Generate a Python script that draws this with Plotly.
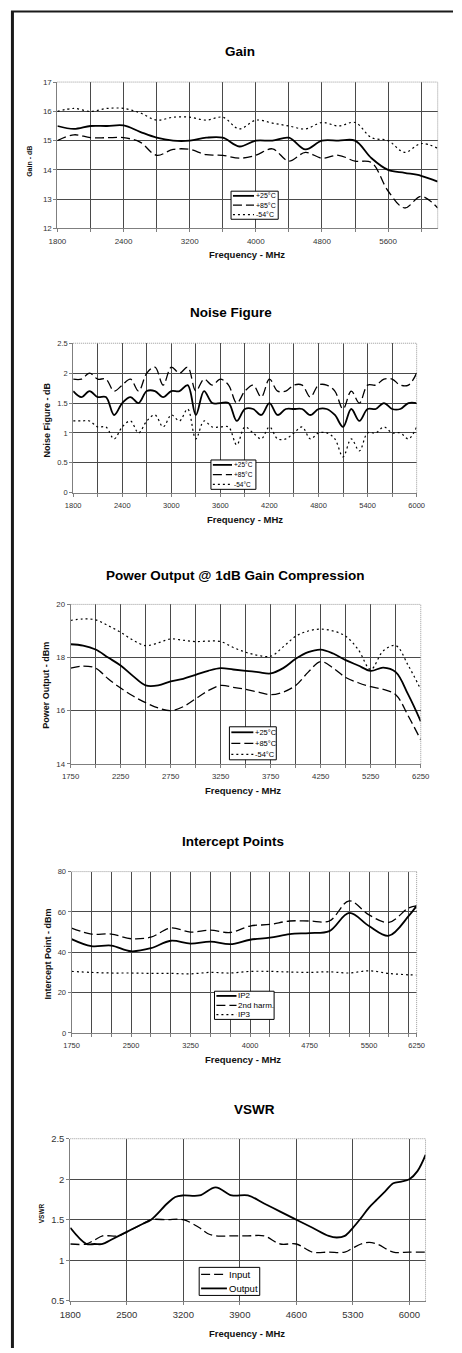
import plotly.graph_objects as go

W, H = 462, 1353
FONT = "Liberation Sans, Arial, sans-serif"

# ---------------- data ----------------
# Gain (x positions on the chart's frequency scale)
gain_freq = [1600, 1800, 2000, 2200, 2400, 2600, 2800, 3000, 3200, 3400, 3600, 3800,
             4000, 4200, 4400, 4600, 4800, 5000, 5200, 5400, 5600, 5800, 6000, 6200]
gain_p25 = [15.5, 15.4, 15.5, 15.5, 15.52, 15.3, 15.1, 15.0, 15.0, 15.1, 15.1, 14.8,
            15.0, 15.0, 15.1, 14.7, 15.0, 15.0, 15.0, 14.4, 14.0, 13.9, 13.8, 13.6]
gain_p85 = [15.0, 15.2, 15.1, 15.1, 15.1, 14.95, 14.5, 14.7, 14.7, 14.52, 14.5, 14.4,
            14.5, 14.72, 14.3, 14.6, 14.4, 14.5, 14.3, 14.25, 13.28, 12.7, 13.1, 12.7]
gain_m54 = [16.0, 16.1, 16.0, 16.1, 16.1, 15.95, 15.7, 15.8, 15.8, 15.7, 15.8, 15.4,
            15.7, 15.6, 15.5, 15.4, 15.62, 15.5, 15.62, 15.1, 15.0, 14.6, 14.9, 14.74]
gain_tickvals = [1600, 2000, 2400, 2800, 3200, 3600, 4000, 4400, 4800, 5200, 5600, 6000]
gain_ticktext = ["1800", "", "2400", "", "3200", "", "4000", "", "4800", "", "5600", ""]

# Noise figure
nf_freq = [1800, 1900, 2000, 2100, 2200, 2300, 2400, 2500, 2600, 2700, 2800, 2900,
           3000, 3100, 3200, 3300, 3400, 3500, 3600, 3700, 3800, 3900, 4000, 4100,
           4200, 4300, 4400, 4500, 4600, 4700, 4800, 4900, 5000, 5100, 5200, 5300,
           5400, 5500, 5600, 5700, 5800, 5900, 6000]
nf_p25 = [1.7, 1.6, 1.7, 1.6, 1.6, 1.3, 1.5, 1.6, 1.5, 1.7, 1.7, 1.6,
          1.7, 1.7, 1.8, 1.3, 1.7, 1.5, 1.5, 1.5, 1.2, 1.4, 1.4, 1.3,
          1.5, 1.3, 1.4, 1.4, 1.4, 1.3, 1.4, 1.4, 1.3, 1.1, 1.4, 1.2,
          1.4, 1.4, 1.5, 1.4, 1.4, 1.5, 1.5]
nf_p85 = [1.9, 1.9, 2.0, 1.9, 1.9, 1.7, 1.8, 1.9, 1.7, 2.0, 2.1, 1.8,
          2.1, 2.0, 2.1, 1.7, 1.9, 1.8, 1.9, 1.8, 1.5, 1.7, 1.8, 1.6,
          1.9, 1.7, 1.7, 1.8, 1.8, 1.6, 1.8, 1.8, 1.7, 1.4, 1.7, 1.5,
          1.8, 1.8, 1.9, 1.9, 1.8, 1.8, 2.0]
nf_m54 = [1.2, 1.2, 1.2, 1.1, 1.1, 0.9, 1.1, 1.2, 1.0, 1.2, 1.3, 1.1,
          1.3, 1.2, 1.4, 0.9, 1.2, 1.1, 1.1, 1.1, 0.8, 1.1, 1.0, 0.9,
          1.1, 0.9, 0.9, 1.0, 1.1, 0.9, 1.0, 1.0, 0.9, 0.6, 0.9, 0.7,
          1.0, 1.0, 1.1, 1.0, 1.0, 0.9, 1.1]
nf_tickvals = [1800, 2100, 2400, 2700, 3000, 3300, 3600, 3900, 4200, 4500, 4800,
               5100, 5400, 5700, 6000]
nf_ticktext = ["1800", "", "2400", "", "3000", "", "3600", "", "4200", "", "4800",
               "", "5400", "", "6000"]

# Power output @ 1 dB compression (x positions on the chart's category scale)
po_freq = [1750, 1875, 2000, 2125, 2250, 2375, 2500, 2625, 2750, 2875, 3000, 3125,
           3250, 3375, 3500, 3625, 3750, 3875, 4000, 4125, 4250, 4375, 4500, 4625,
           4750, 4875, 5000, 5125, 5250]
po_p25 = [18.5, 18.45, 18.3, 18.0, 17.7, 17.3, 16.95, 16.95, 17.1, 17.2, 17.35, 17.5,
          17.6, 17.55, 17.5, 17.45, 17.4, 17.6, 17.95, 18.2, 18.3, 18.15, 17.9, 17.7,
          17.5, 17.62, 17.45, 16.6, 15.6]
po_p85 = [17.6, 17.68, 17.6, 17.2, 16.85, 16.55, 16.3, 16.1, 16.0, 16.15, 16.45, 16.75,
          16.95, 16.88, 16.8, 16.7, 16.6, 16.7, 16.95, 17.45, 17.85, 17.6, 17.25, 17.05,
          16.9, 16.8, 16.6, 15.8, 14.9]
po_m54 = [19.4, 19.45, 19.42, 19.2, 18.95, 18.65, 18.45, 18.55, 18.7, 18.65, 18.6, 18.62,
          18.6, 18.38, 18.2, 18.08, 18.05, 18.4, 18.8, 19.0, 19.07, 19.0, 18.8, 18.3,
          17.55, 18.25, 18.45, 17.7, 16.8]
po_tickvals = [1750, 2000, 2250, 2500, 2750, 3000, 3250, 3500, 3750, 4000, 4250,
               4500, 4750, 5000, 5250]
po_ticktext = ["1750", "", "2250", "", "2750", "", "3250", "", "3750", "", "4250",
               "", "5250", "", "6250"]

# Intercept points
ip_freq = [1750, 2000, 2250, 2500, 2750, 3000, 3250, 3500, 3750, 4000, 4250, 4500,
           4750, 5000, 5250, 5500, 5750, 6000, 6100]
ip_ip2 = [46.5, 43.0, 43.3, 40.5, 42.0, 45.7, 44.3, 45.3, 44.0, 46.2, 47.2, 49.0,
          49.5, 50.5, 59.5, 53.0, 48.2, 58.0, 63.0]
ip_h2 = [52.0, 49.0, 49.0, 46.7, 47.5, 52.0, 50.0, 51.0, 49.8, 53.0, 53.8, 55.5,
         55.5, 55.5, 65.5, 58.5, 54.8, 62.0, 63.0]
ip_ip3 = [30.5, 30.0, 29.7, 29.7, 29.5, 29.5, 29.3, 30.0, 29.7, 30.5, 30.5, 30.2,
          30.0, 30.3, 29.7, 30.8, 29.5, 28.8, 28.7]
ip_tickvals = [1750, 2000, 2250, 2500, 2750, 3000, 3250, 3500, 3750, 4000, 4250,
               4500, 4750, 5000, 5250, 5500, 5750, 6000, 6100]
ip_ticktext = ["1750", "", "", "2500", "", "", "3250", "", "", "4000", "", "",
               "4750", "", "", "5500", "", "", "6250"]

# VSWR
vs_freq_out = [1800, 2000, 2100, 2200, 2300, 2500, 2700, 2800, 3000, 3100, 3200, 3400,
               3600, 3800, 4000, 4200, 4400, 4600, 4800, 5000, 5100, 5200, 5300, 5400,
               5500, 5600, 5700, 5800, 5900, 6000, 6100, 6200]
vs_output = [1.4, 1.2, 1.2, 1.2, 1.25, 1.35, 1.45, 1.5, 1.7, 1.78, 1.8, 1.8,
             1.9, 1.8, 1.8, 1.7, 1.6, 1.5, 1.4, 1.3, 1.28, 1.3, 1.4, 1.52,
             1.65, 1.75, 1.85, 1.95, 1.97, 2.0, 2.1, 2.3]
vs_freq_in = [1800, 2000, 2100, 2200, 2300, 2400, 2500, 2700, 2800, 3000, 3200, 3400,
              3500, 3600, 3800, 4000, 4200, 4400, 4600, 4800, 5000, 5200, 5300, 5400,
              5500, 5600, 5800, 6000, 6200]
vs_input = [1.2, 1.2, 1.25, 1.3, 1.3, 1.3, 1.35, 1.45, 1.5, 1.5, 1.5, 1.4,
            1.33, 1.3, 1.3, 1.3, 1.3, 1.2, 1.2, 1.1, 1.1, 1.1, 1.15, 1.2,
            1.22, 1.2, 1.1, 1.1, 1.1]
vs_tickvals = [1800, 2500, 3200, 3900, 4600, 5300, 6000]

# ---------------- styles ----------------
STY = {
    "solid": dict(color="black", width=1.8),
    "dash": dict(color="black", width=1.3, dash="9px,4px"),
    "dot": dict(color="black", width=1.2, dash="2px,3px"),
}


def px(x):
    return x / W


def py(y):
    return 1 - y / H


fig = go.Figure()
shapes = []
annots = []

panels = [
    dict(key="", xd=(48.5, 446), yd=(76.7, 224.3), xr=[1600, 6200], yr=[12, 17], ydt=1,
         tv=gain_tickvals, tt=gain_ticktext, tfs=8,
         title="Gain", tpos=(239, 46), xt_pos=(247, 251), yt="Gain - dB", yt_pos=(20, 157),
         yt_fs=7,
         series=[(gain_freq, gain_p25, "solid", "+25°C"), (gain_freq, gain_p85, "dash", "+85°C"),
                 (gain_freq, gain_m54, "dot", "-54°C")],
         leg=(230, 279.3, 186.7, 215), leg_fs=7, keylen=22),
    dict(key="2", xd=(65, 424), yd=(340, 490.7), xr=[1800, 6000], yr=[0, 2.5], ydt=0.5,
         tv=nf_tickvals, tt=nf_ticktext, tfs=7.5,
         title="Noise Figure", tpos=(229.5, 309), xt_pos=(245, 518), yt="Noise Figure - dB",
         yt_pos=(38, 417.5), yt_fs=9,
         series=[(nf_freq, nf_p25, "solid", "+25°C"), (nf_freq, nf_p85, "dash", "+85°C"),
                 (nf_freq, nf_m54, "dot", "-54°C")],
         leg=(209, 256, 457.7, 487.3), leg_fs=6.5, keylen=20),
    dict(key="3", xd=(62.3, 428.3), yd=(603.3, 764), xr=[1750, 5250], yr=[14, 20], ydt=2,
         tv=po_tickvals, tt=po_ticktext, tfs=7.8,
         title="Power Output @ 1dB Gain Compression", tpos=(234.5, 574), xt_pos=(243, 791),
         yt="Power Output - dBm", yt_pos=(37, 685), yt_fs=9,
         series=[(po_freq, po_p25, "solid", "+25°C"), (po_freq, po_p85, "dash", "+85°C"),
                 (po_freq, po_m54, "dot", "-54°C")],
         leg=(228.3, 277.3, 726.7, 760), leg_fs=7.5, keylen=23),
    dict(key="4", xd=(63.3, 424), yd=(872.7, 1035.3), xr=[1750, 6100], yr=[0, 80], ydt=20,
         tv=ip_tickvals, tt=ip_ticktext, tfs=7.5,
         title="Intercept Points", tpos=(232, 842), xt_pos=(243, 1062),
         yt="Intercept Point - dBm", yt_pos=(39, 956), yt_fs=9,
         series=[(ip_freq, ip_ip2, "solid", "IP2"), (ip_freq, ip_h2, "dash", "2nd harm."),
                 (ip_freq, ip_ip3, "dot", "IP3")],
         leg=(212.7, 275, 993.3, 1021.7), leg_fs=8, keylen=21),
    dict(key="5", xd=(62, 433.3), yd=(1142, 1305.3), xr=[1800, 6200], yr=[0.5, 2.5], ydt=0.5,
         tv=vs_tickvals, tt=[str(v) for v in vs_tickvals], tfs=9.5,
         title="VSWR", tpos=(254.5, 1113), xt_pos=(246.5, 1338), yt="VSWR", yt_pos=(32, 1217.5),
         yt_fs=6.5,
         series=[(vs_freq_in, vs_input, "dash", "Input"), (vs_freq_out, vs_output, "solid", "Output")],
         leg=(196.7, 260, 1271.7, 1300), leg_fs=9.5, keylen=27),
]

for p in panels:
    k = p["key"]
    xa, ya = "x" + k, "y" + k
    for xs, ys, st, name in p["series"]:
        fig.add_trace(go.Scatter(x=xs, y=ys, mode="lines", name=name, xaxis=xa, yaxis=ya,
                                 line=dict(shape="spline", smoothing=1.0, **STY[st]),
                                 showlegend=False, hoverinfo="skip"))
    axis_common = dict(showline=True, linecolor="#7f7f7f", linewidth=1, ticks="outside",
                       ticklen=3, tickcolor="#7f7f7f", showgrid=True, gridcolor="#4a4a4a",
                       gridwidth=1, zeroline=False, fixedrange=True,
                       tickfont=dict(family=FONT, size=p["tfs"], color="#333333"))
    fig.update_layout(**{
        "xaxis" + k: dict(domain=[px(p["xd"][0]), px(p["xd"][1])], range=p["xr"],
                          anchor=ya, tickmode="array", tickvals=p["tv"], ticktext=p["tt"],
                          ticklabelstandoff=2, **axis_common),
        "yaxis" + k: dict(domain=[py(p["yd"][1]), py(p["yd"][0])], range=p["yr"],
                          anchor=xa, dtick=p["ydt"], tick0=p["yr"][0], **axis_common),
    })
    # dotted top / right frame of the plot area
    x0, x1 = px(p["xd"][0]), px(p["xd"][1])
    y0, y1 = py(p["yd"][1]), py(p["yd"][0])
    shapes.append(dict(type="line", xref="paper", yref="paper", x0=x0, x1=x1, y0=y1, y1=y1,
                       line=dict(color="#9a9a9a", width=1, dash="1px,1px")))
    shapes.append(dict(type="line", xref="paper", yref="paper", x0=x1, x1=x1, y0=y0, y1=y1,
                       line=dict(color="#9a9a9a", width=1, dash="1px,1px")))
    # titles
    annots.append(dict(text=p["title"], x=px(p["tpos"][0]), y=py(p["tpos"][1]), xref="paper",
                       yref="paper", showarrow=False, xanchor="center", yanchor="middle",
                       font=dict(family=FONT, size=13.5, color="black", weight="bold")))
    annots.append(dict(text="Frequency - MHz", x=px(p["xt_pos"][0]), y=py(p["xt_pos"][1]),
                       xref="paper", yref="paper", showarrow=False, xanchor="center",
                       yanchor="middle",
                       font=dict(family=FONT, size=9.5, color="#111111", weight="bold")))
    annots.append(dict(text=p["yt"], x=px(p["yt_pos"][0]), y=py(p["yt_pos"][1]), xref="paper",
                       yref="paper", showarrow=False, xanchor="center", yanchor="middle",
                       textangle=-90,
                       font=dict(family=FONT, size=p["yt_fs"], color="#111111", weight="bold")))
    # compact legend box
    lx0, lx1, ly0, ly1 = p["leg"]
    shapes.append(dict(type="rect", xref="paper", yref="paper", x0=px(lx0), x1=px(lx1),
                       y0=py(ly1), y1=py(ly0), line=dict(color="black", width=1),
                       fillcolor="white", layer="above"))
    n = len(p["series"])
    for i, (_, _, st, name) in enumerate(p["series"]):
        yc = ly0 + (i + 0.5) * (ly1 - ly0) / n
        shapes.append(dict(type="line", xref="paper", yref="paper", x0=px(lx0 + 2),
                           x1=px(lx0 + 2 + p["keylen"]), y0=py(yc), y1=py(yc),
                           line=STY[st], layer="above"))
        annots.append(dict(text=name, x=px(lx0 + 2 + p["keylen"]), y=py(yc), xref="paper",
                           yref="paper", showarrow=False, xanchor="left", yanchor="middle",
                           font=dict(family=FONT, size=p["leg_fs"], color="black")))

# page frame (black rule on top and left)
shapes.append(dict(type="line", xref="paper", yref="paper", x0=0, x1=1, y0=py(5.5), y1=py(5.5),
                   line=dict(color="#1a1a1a", width=2)))
shapes.append(dict(type="line", xref="paper", yref="paper", x0=px(1.5), x1=px(1.5), y0=0,
                   y1=py(5), line=dict(color="#1a1a1a", width=3)))

fig.update_layout(width=W, height=H, margin=dict(l=0, r=0, t=0, b=0), paper_bgcolor="white",
                  plot_bgcolor="white", shapes=shapes, annotations=annots, showlegend=False)

fig.write_html("out.html", config={"displayModeBar": False, "staticPlot": True},
               post_script="document.body.style.margin='0';"
                           "document.body.style.overflow='hidden';")
